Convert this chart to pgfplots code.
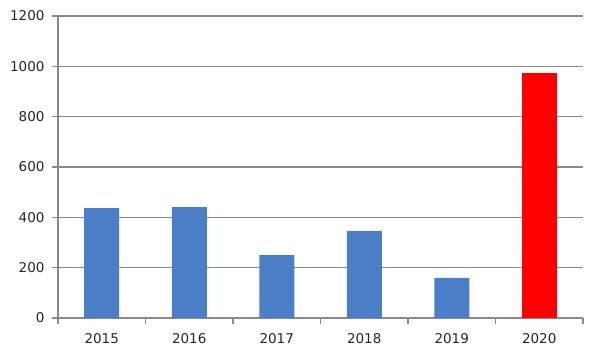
\documentclass[border=0pt]{standalone}
\usepackage{fontspec}
\setmainfont{DejaVu Sans}
\usepackage{pgfplots}
\pgfplotsset{compat=1.18}
\definecolor{barblue}{HTML}{4A7EC7}
\definecolor{gridgray}{HTML}{898989}
\begin{document}
\begin{tikzpicture}
\path[use as bounding box] (-58bp,-40bp) rectangle (542bp,318bp);
\begin{axis}[
  at={(0,0)}, anchor=south west,
  scale only axis, width=525bp, height=302bp,
  xmin=-0.5, xmax=5.5, ymin=0, ymax=1200,
  ytick={0,200,...,1200},
  xtick={0,1,2,3,4,5},
  xticklabels={2015,2016,2017,2018,2019,2020},
  minor xtick={-0.5,0.5,1.5,2.5,3.5,4.5,5.5},
  major x tick style={draw=none},
  minor tick length=6bp,
  major tick length=6bp,
  tick align=outside,
  tick style={gridgray, line width=1.2bp},
  axis x line*=bottom, axis y line*=left,
  axis line style={gridgray, line width=1.2bp, -},
  ymajorgrids, grid style={gridgray, line width=1.2bp},
  font=\fontsize{13.5bp}{16bp}\selectfont,
  /pgf/number format/assume math mode=true,
  /pgf/number format/set thousands separator={},
  xticklabel style={yshift=-6bp, text=black!85},
  yticklabel style={xshift=-4bp, text=black!85},
  ybar, bar width=35bp, bar shift=0pt,
]
\addplot[fill=barblue, draw=none] coordinates {(0,437) (1,441) (2,250) (3,346) (4,159)};
\addplot[fill=red, draw=none] coordinates {(5,973)};
\end{axis}
\end{tikzpicture}
\end{document}
